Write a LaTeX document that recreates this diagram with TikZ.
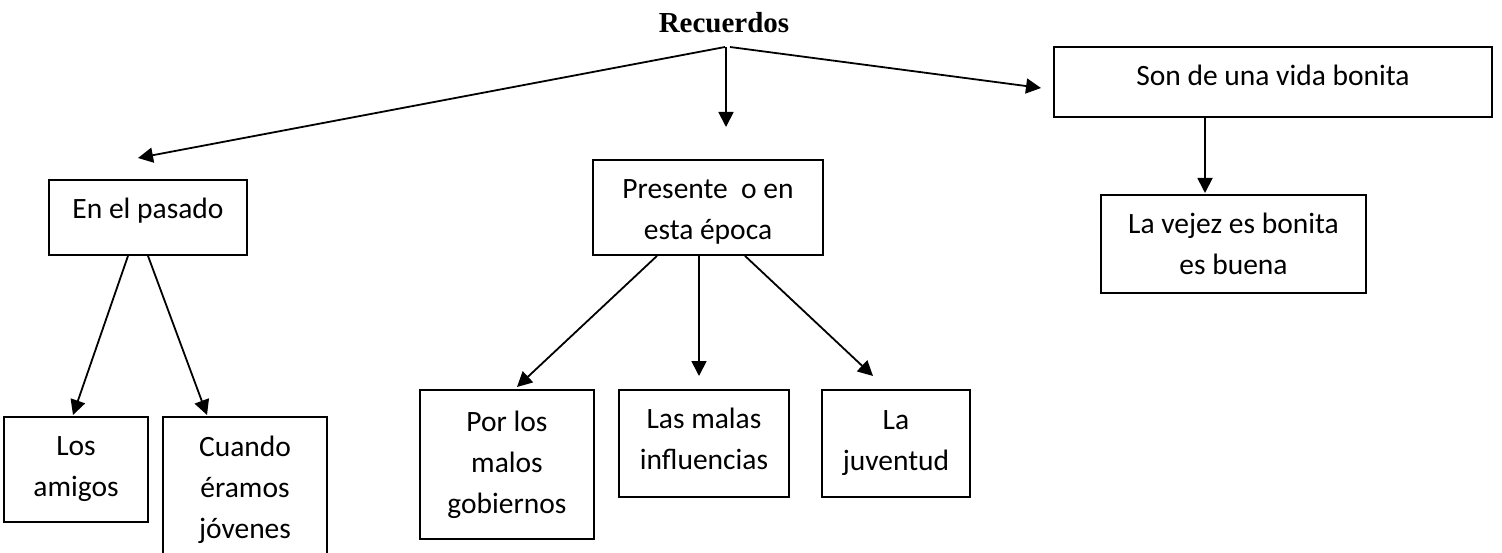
\documentclass[tikz,border=0pt]{standalone}
\usepackage{fontspec}
\setmainfont{Carlito}
\newfontfamily\recfont{Liberation Serif}
\usetikzlibrary{arrows.meta,calc}
\tikzset{
  box/.style={draw=black, line width=1.8pt, rectangle, align=center, inner sep=0pt,
    font=\fontsize{29.5}{41}\selectfont},
  conn/.style={draw=black, line width=1.8pt, -{Triangle[length=15pt,width=15pt]}},
}
\begin{document}
\begin{tikzpicture}[x=1pt,y=-1pt]
\useasboundingbox (0,0) rectangle (1502,553);
\clip (0,0) rectangle (1502,553);
\fill[white] (0,0) rectangle (1502,553);
% title
\node[anchor=base, inner sep=0pt, font=\recfont\bfseries\fontsize{29}{34}\selectfont] (rec) at (724,33) {Recuerdos};
\coordinate (recL) at (725,47);
\coordinate (recM) at (726,47);
\coordinate (recR) at (730,47);
% boxes
\node[box, minimum width=198pt, minimum height=75pt, text height=21pt, text depth=18pt] (pas) at (148,217.5) {En el pasado};
\node[box, minimum width=230pt, minimum height=95pt] (pre) at (708,207.5) {\rule{0pt}{28pt}Presente\ \ o en\\esta época};
\node[box, minimum width=438pt, minimum height=70pt, text height=22pt, text depth=14pt] (son) at (1273,82) {Son de una vida bonita};
\node[box, minimum width=265pt, minimum height=98pt] (vej) at (1233.5,244) {La vejez es bonita\\es buena};
\node[box, minimum width=144pt, minimum height=105pt] (ami) at (76,469.5) {Los\\amigos};
\node[box, minimum width=164pt, minimum height=146pt] (cua) at (245,490) {Cuando\\éramos\\jóvenes};
\node[box, minimum width=174pt, minimum height=149pt] (gob) at (507,464.5) {Por los\\malos\\gobiernos};
\node[box, minimum width=170pt, minimum height=107pt] (inf) at (704,443.5) {Las malas\\influencias\rule[-10pt]{0pt}{10pt}};
\node[box, minimum width=148pt, minimum height=107pt] (juv) at (896,443.5) {La\\juventud};
% arrow tips (free ends)
\coordinate (tPas) at (138,158);
\coordinate (tPre) at (726,127);
\coordinate (tSon) at (1041,88);
\coordinate (tVej) at (1205,193);
\coordinate (tAmi) at (73,415);
\coordinate (tCua) at (207,415);
\coordinate (tGob) at (517,387);
\coordinate (tInf) at (699,376);
\coordinate (tJuv) at (873,376);
% connectors
\draw[conn] (recL) -- (tPas);
\draw[conn] (recM) -- (tPre);
\draw[conn] (recR) -- (tSon);
\draw[conn] ([xshift=-68pt]son.south) -- (tVej);
\draw[conn] ([xshift=-20pt]pas.south) -- (tAmi);
\draw[conn] (pas.south) -- (tCua);
\draw[conn] ([xshift=-51pt]pre.south) -- (tGob);
\draw[conn] ([xshift=-9pt]pre.south) -- (tInf);
\draw[conn] ([xshift=37pt]pre.south) -- (tJuv);
\end{tikzpicture}
\end{document}
